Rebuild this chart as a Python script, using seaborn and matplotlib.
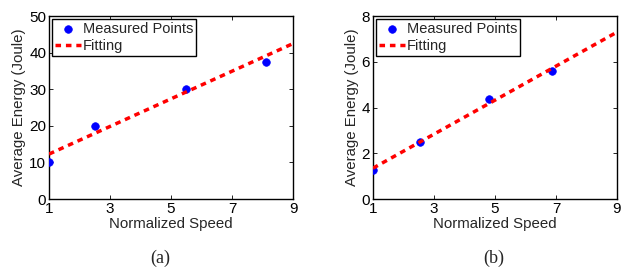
import numpy as np
import pandas as pd
import matplotlib
matplotlib.use("Agg")
import matplotlib.pyplot as plt
import seaborn as sns

# panel (a)
speed_a = [1.0, 2.52, 5.48, 8.1]
energy_a = [10.1, 20.0, 30.2, 37.6]
fit_x_a = [1, 9]
fit_y_a = [12.3, 42.5]

# panel (b)
speed_b = [1.0, 2.55, 4.8, 6.87]
energy_b = [1.28, 2.51, 4.38, 5.62]
fit_x_b = [1, 9]
fit_y_b = [1.35, 7.3]

yticks_a = [0, 10, 20, 30, 40, 50]
yticks_b = [0, 2, 4, 6, 8]
xticks = [1, 3, 5, 7, 9]
captions = ["(a)", "(b)"]

sns.set_style("ticks")
plt.rcParams['font.family'] = ['Liberation Sans', 'DejaVu Sans']
plt.rcParams['xtick.direction'] = 'in'
plt.rcParams['ytick.direction'] = 'in'

fig = plt.figure(figsize=(6.3, 2.69), dpi=100)
ax_a = fig.add_axes([0.0778, 0.260, 0.3873, 0.680])
ax_b = fig.add_axes([0.592, 0.260, 0.3873, 0.680])

panels = [
    (ax_a, speed_a, energy_a, fit_x_a, fit_y_a, yticks_a, 0.254),
    (ax_b, speed_b, energy_b, fit_x_b, fit_y_b, yticks_b, 0.783),
]

for i, (ax, sx, sy, fx, fy, yt, cx) in enumerate(panels):
    pts = pd.DataFrame({'speed': sx, 'energy': sy})
    fit = pd.DataFrame({'speed': fx, 'energy': fy})
    sns.scatterplot(data=pts, x='speed', y='energy', ax=ax, color='#0000ff',
                    s=30, edgecolor='#0000ff', linewidth=0.5, zorder=3,
                    label='Measured Points')
    sns.lineplot(data=fit, x='speed', y='energy', ax=ax, color='#ff0000',
                 linewidth=2.5, dashes=False, zorder=4, label='Fitting')
    ax.lines[-1].set_linestyle((0, (1.6, 1.4)))
    ax.set_xlim(1, 9)
    ax.set_ylim(yt[0], yt[-1])
    ax.set_xticks(xticks)
    ax.set_yticks(yt)
    ax.tick_params(top=True, right=True, length=3, width=0.6, labelsize=11, pad=2,
                   colors='black')
    for sp in ax.spines.values():
        sp.set_linewidth(1.0)
        sp.set_color('black')
    ax.set_xlabel('Normalized Speed', fontsize=10.8, labelpad=1)
    ax.set_ylabel('Average Energy (Joule)', fontsize=10.8, labelpad=2)
    leg = ax.legend(loc='upper left', fontsize=10.5, frameon=True, fancybox=False,
                    borderaxespad=0.2, borderpad=0.2, handlelength=1.8,
                    handletextpad=0.1, labelspacing=0.2, framealpha=1,
                    markerscale=1.0)
    leg.get_frame().set_edgecolor('black')
    leg.get_frame().set_linewidth(1.0)
    fig.text(cx, 0.04, captions[i], ha='center', va='center', fontsize=13,
             family=['Liberation Serif', 'DejaVu Serif'])

fig.savefig('out.png', dpi=100)
